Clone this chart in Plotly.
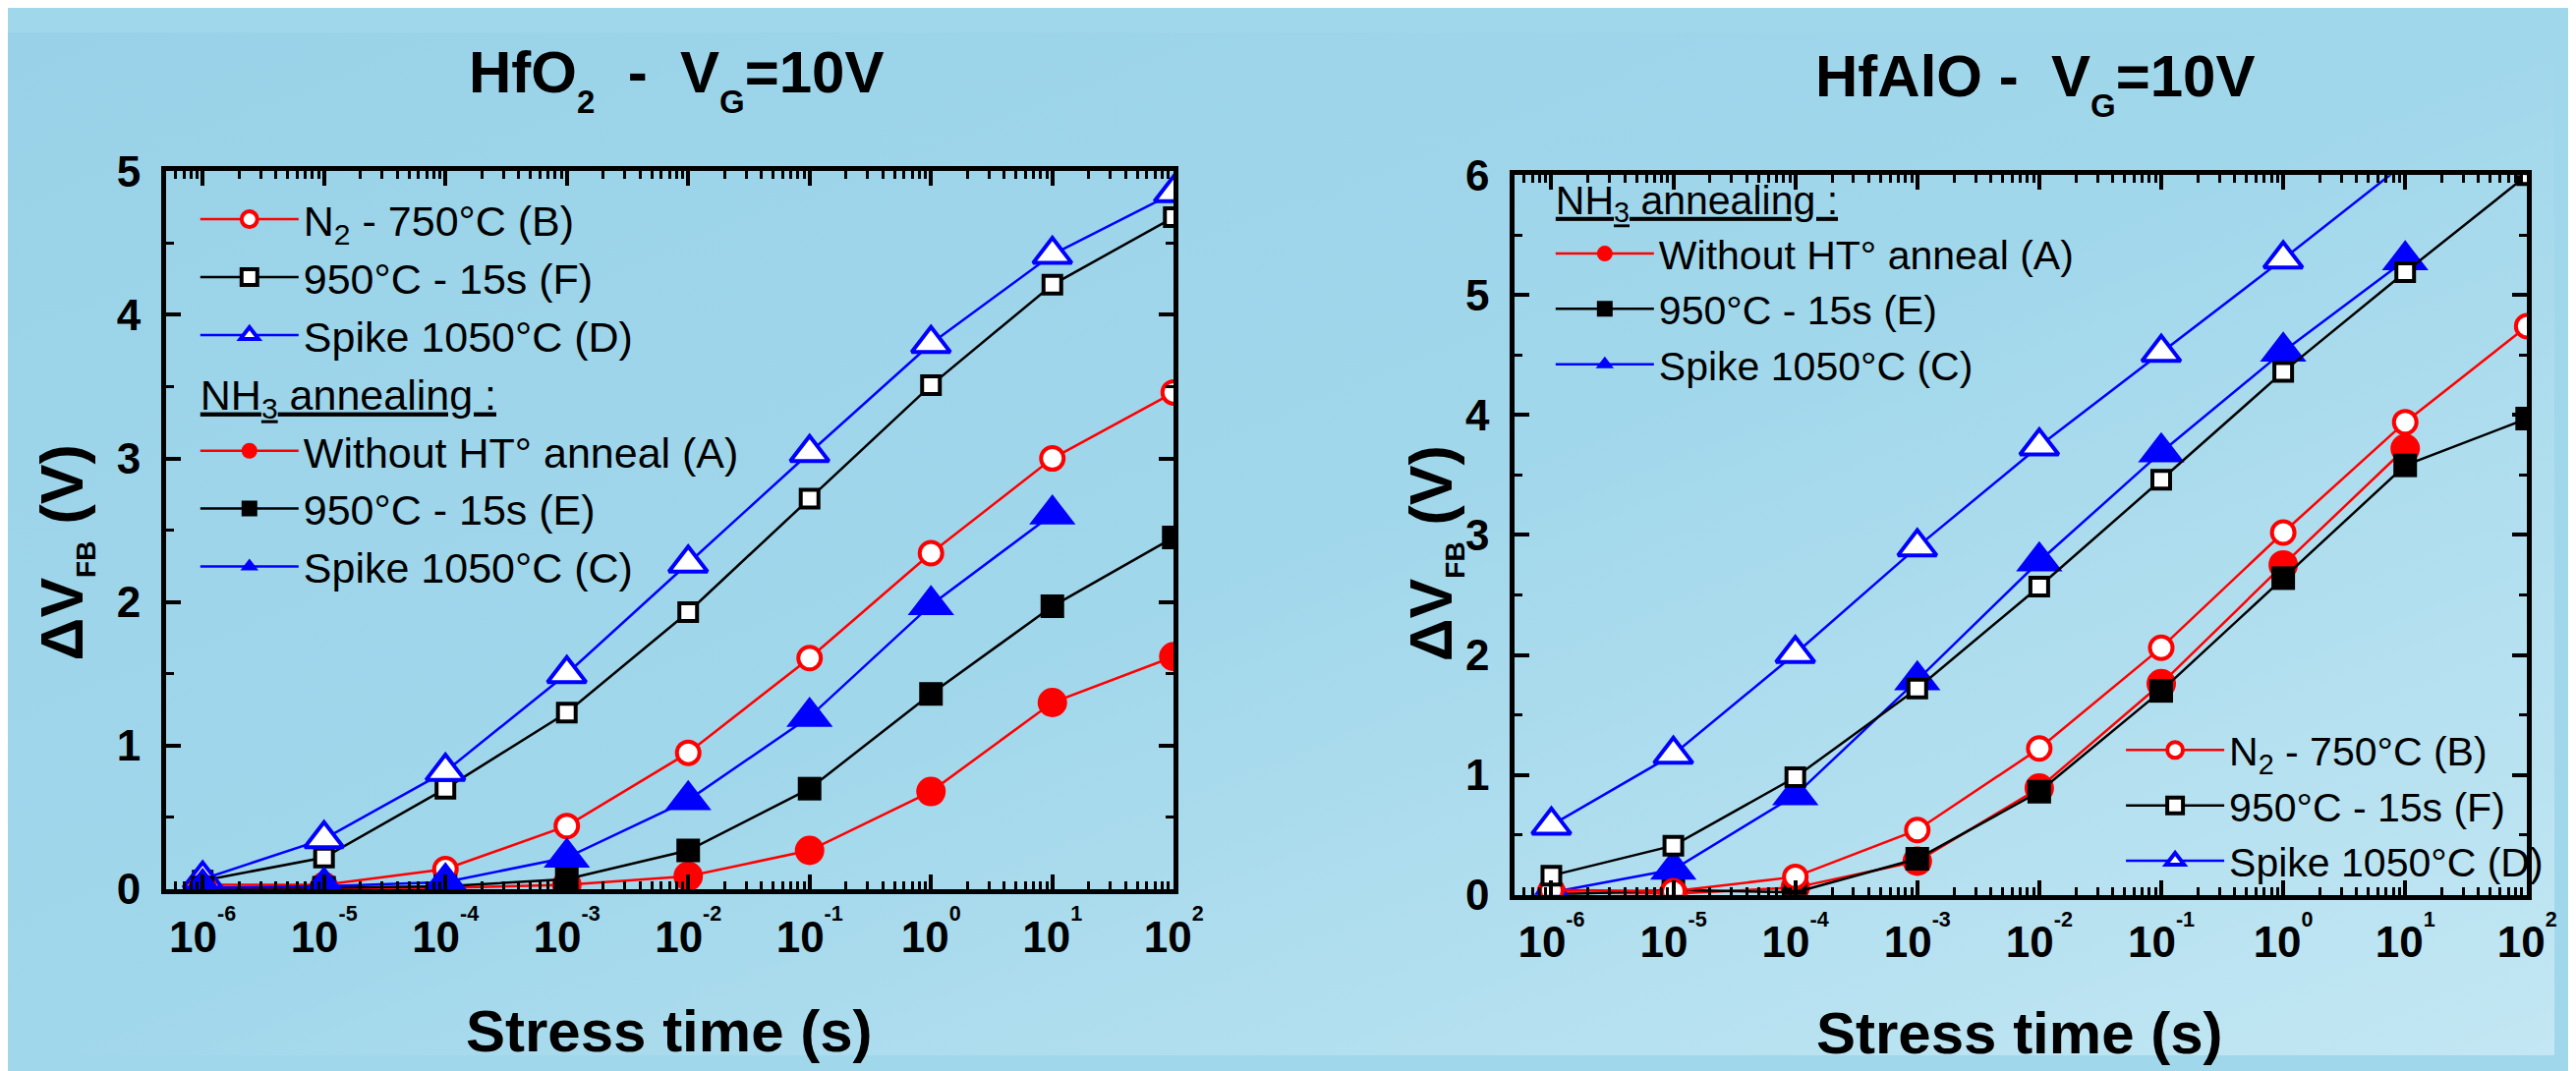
import base64
import plotly.graph_objects as go

# stress times (s)
t = [1e-6, 1e-5, 1e-4, 1e-3, 1e-2, 1e-1, 1e0, 1e1, 1e2]

# HfO2 - VG=10V, delta VFB (V)
hfo2_B = [0.03, 0.03, 0.14, 0.44, 0.95, 1.61, 2.34, 3.00, 3.46]
hfo2_F = [0.06, 0.22, 0.70, 1.23, 1.93, 2.72, 3.51, 4.21, 4.68]
hfo2_D = [0.07, 0.35, 0.82, 1.50, 2.27, 3.04, 3.80, 4.42, 4.85]
hfo2_A = [0.005, 0.01, 0.01, 0.03, 0.09, 0.27, 0.68, 1.30, 1.62]
hfo2_E = [0.01, 0.01, 0.02, 0.07, 0.27, 0.70, 1.36, 1.97, 2.45]
hfo2_C = [0.01, 0.02, 0.05, 0.22, 0.62, 1.20, 1.98, 2.61]

# HfAlO - VG=10V, delta VFB (V)
hfalo_B = [0.04, 0.03, 0.15, 0.54, 1.22, 2.06, 3.02, 3.94, 4.74]
hfalo_F = [0.16, 0.41, 0.98, 1.72, 2.57, 3.46, 4.36, 5.19, 6.00]
hfalo_D = [0.58, 1.17, 2.01, 2.90, 3.74, 4.52, 5.30, 6.10]
hfalo_A = [0.02, 0.01, 0.06, 0.28, 0.89, 1.76, 2.75, 3.72]
hfalo_E = [0.0, 0.04, 0.02, 0.30, 0.86, 1.70, 2.64, 3.58, 3.97]
hfalo_C = [0.02, 0.21, 0.83, 1.79, 2.78, 3.69, 4.53, 5.29]

x_tickvals = [1e-6, 1e-5, 1e-4, 1e-3, 1e-2, 1e-1, 1e0, 1e1, 1e2]
x_ticktext = ["10<sup><sup>%s</sup></sup>" % e for e in ["-6", "-5", "-4", "-3", "-2", "-1", "0", "1", "2"]]

label_B = "N<sub>2</sub> - 750°C (B)"
label_F = "950°C - 15s (F)"
label_D = "Spike 1050°C (D)"
label_A = "Without HT° anneal (A)"
label_E = "950°C - 15s (E)"
label_C = "Spike 1050°C (C)"
nh3_title = "NH<sub>3</sub> annealing :"

FONT = "Liberation Sans, Arial, sans-serif"
RED, BLACK, BLUE = "#ff0000", "#000000", "#0000ff"

# marker styles per series
styles = {
    "B": dict(symbol="circle", size=23, color="white", line=dict(color=RED, width=4)),
    "F": dict(symbol="square", size=18, color="white", line=dict(color=BLACK, width=4)),
    "D": dict(symbol="triangle-up", size=34, color="white", line=dict(color=BLUE, width=4)),
    "A": dict(symbol="circle", size=30, color=RED, line=dict(color=RED, width=0)),
    "E": dict(symbol="square", size=24, color=BLACK, line=dict(color=BLACK, width=0)),
    "C": dict(symbol="triangle-up", size=41, color=BLUE, line=dict(color=BLUE, width=0)),
}
line_colors = {"B": RED, "F": BLACK, "D": BLUE, "A": RED, "E": BLACK, "C": BLUE}
legend_sizes = {"legend": 43, "legend2": 41, "legend3": 41}


def add_series(fig, key, xs, ys, name, xaxis, yaxis, legend, group, grouptitle=None):
    tr = go.Scatter(
        x=xs, y=ys, name=name, mode="lines+markers",
        xaxis=xaxis, yaxis=yaxis, legend=legend, legendgroup=group,
        line=dict(color=line_colors[key], width=2.5),
        marker=styles[key], cliponaxis=True,
    )
    if grouptitle:
        tr.legendgrouptitle = dict(text=grouptitle,
                                   font=dict(family=FONT, size=legend_sizes[legend], color="black",
                                             lineposition="under"))
    fig.add_trace(tr)


fig = go.Figure()

# left panel: HfO2
add_series(fig, "B", t, hfo2_B, label_B, "x", "y", "legend", "l1")
add_series(fig, "F", t, hfo2_F, label_F, "x", "y", "legend", "l1")
add_series(fig, "D", t, hfo2_D, label_D, "x", "y", "legend", "l1")
add_series(fig, "A", t, hfo2_A, label_A, "x", "y", "legend", "l2", nh3_title)
add_series(fig, "E", t, hfo2_E, label_E, "x", "y", "legend", "l2")
add_series(fig, "C", t[:len(hfo2_C)], hfo2_C, label_C, "x", "y", "legend", "l2")

# right panel: HfAlO
add_series(fig, "A", t[:len(hfalo_A)], hfalo_A, label_A, "x2", "y2", "legend2", "r2", nh3_title)
add_series(fig, "E", t, hfalo_E, label_E, "x2", "y2", "legend2", "r2")
add_series(fig, "C", t[:len(hfalo_C)], hfalo_C, label_C, "x2", "y2", "legend2", "r2")
add_series(fig, "B", t, hfalo_B, label_B, "x2", "y2", "legend3", "r1")
add_series(fig, "F", t, hfalo_F, label_F, "x2", "y2", "legend3", "r1")
add_series(fig, "D", t[:len(hfalo_D)], hfalo_D, label_D, "x2", "y2", "legend3", "r1")

W, H = 2621, 1090
minor_x = [m * 10 ** k for k in range(-7, 2) for m in range(2, 10)]

xaxis_common = dict(
    type="log", range=[-6.3, 2.0],
    tickmode="array", tickvals=x_tickvals, ticktext=x_ticktext,
    ticks="inside", ticklen=15, tickwidth=4, tickcolor="black",
    showline=True, linewidth=5, linecolor="black", mirror="ticks",
    showgrid=False, zeroline=False, ticklabelstandoff=6,
    tickfont=dict(family=FONT, size=44, color="black", weight="bold"),
    minor=dict(tickmode="array", tickvals=minor_x, ticks="inside", ticklen=8,
               tickwidth=3, tickcolor="black", showgrid=False),
)
yaxis_common = dict(
    dtick=1, ticks="inside", ticklen=15, tickwidth=4, tickcolor="black",
    showline=True, linewidth=5, linecolor="black", mirror="ticks",
    showgrid=False, zeroline=False, ticklabelstandoff=12,
    tickfont=dict(family=FONT, size=44, color="black", weight="bold"),
    minor=dict(dtick=0.5, ticks="inside", ticklen=8, tickwidth=3,
               tickcolor="black", showgrid=False),
)

fig.update_layout(
    xaxis=dict(domain=[163 / W, 1200 / W], anchor="y", **xaxis_common),
    yaxis=dict(domain=[1 - 913 / H, 1 - 148 / H], anchor="x", range=[0, 5], **yaxis_common),
    xaxis2=dict(domain=[1551 / W, 2593 / W], anchor="y2", **xaxis_common),
    yaxis2=dict(domain=[1 - 919 / H, 1 - 152 / H], anchor="x2", range=[0, 6], **yaxis_common),
)

legend_common = dict(bgcolor="rgba(0,0,0,0)", borderwidth=0, itemwidth=100,
                     xanchor="left", yanchor="top", traceorder="grouped", tracegroupgap=0,
                     itemclick=False, itemdoubleclick=False)
fig.update_layout(
    legend=dict(x=193 / W, y=1 - 163 / H,
                font=dict(family=FONT, size=legend_sizes["legend"], color="black"), **legend_common),
    legend2=dict(x=1588 / W, y=1 - 142 / H,
                 font=dict(family=FONT, size=legend_sizes["legend2"], color="black"), **legend_common),
    legend3=dict(x=2175 / W, y=1 - 730 / H,
                 font=dict(family=FONT, size=legend_sizes["legend3"], color="black"), **legend_common),
)

bold = dict(family=FONT, color="black", weight="bold")
sub_g = "<sub><sub><span style='font-size:33px'>G</span></sub></sub>"
sub_2 = "<sub><sub><span style='font-size:33px'>2</span></sub></sub>"
sub_fb = "<sub><span style='font-size:28px'>FB</span></sub>"
annotations = [
    dict(text="HfO" + sub_2 + "  -  V" + sub_g + "=10V",
         x=688 / W, y=1 - 50 / H, font=dict(size=60, **bold)),
    dict(text="HfAlO -  V" + sub_g + "=10V",
         x=2086 / W, y=1 - 54 / H, font=dict(size=60, **bold)),
    dict(text="Stress time (s)", x=681 / W, y=1 - 1064 / H, font=dict(size=60, **bold)),
    dict(text="Stress time (s)", x=2071 / W, y=1 - 1066 / H, font=dict(size=60, **bold)),
    dict(text="ΔV" + sub_fb + " (V)", textangle=-90,
         x=59 / W, y=1 - 554 / H, font=dict(size=61, **bold)),
    dict(text="ΔV" + sub_fb + " (V)", textangle=-90,
         x=1468 / W, y=1 - 555 / H, font=dict(size=61, **bold)),
]
for a in annotations:
    a.update(xref="paper", yref="paper", showarrow=False, xanchor="center", yanchor="middle")

# soft blue slide background
svg = ('<svg xmlns="http://www.w3.org/2000/svg" width="2621" height="1090">'
       '<defs><linearGradient id="g" x1="0" y1="0" x2="1" y2="1">'
       '<stop offset="0" stop-color="#99D2E8"/><stop offset="0.5" stop-color="#A1D7EB"/>'
       '<stop offset="1" stop-color="#C3E7F3"/></linearGradient></defs>'
       '<rect width="2621" height="1090" fill="url(#g)"/></svg>')
bg_src = "data:image/svg+xml;base64," + base64.b64encode(svg.encode()).decode()

fig.update_layout(
    width=W, height=H,
    margin=dict(l=0, r=0, t=0, b=0),
    paper_bgcolor="#A1D7EB", plot_bgcolor="rgba(0,0,0,0)",
    annotations=annotations,
    images=[dict(source=bg_src, xref="paper", yref="paper", x=0, y=1, sizex=1, sizey=1,
                 xanchor="left", yanchor="top", sizing="stretch", layer="below")],
    font=dict(family=FONT, color="black"),
)

fig.write_html("out.html")
